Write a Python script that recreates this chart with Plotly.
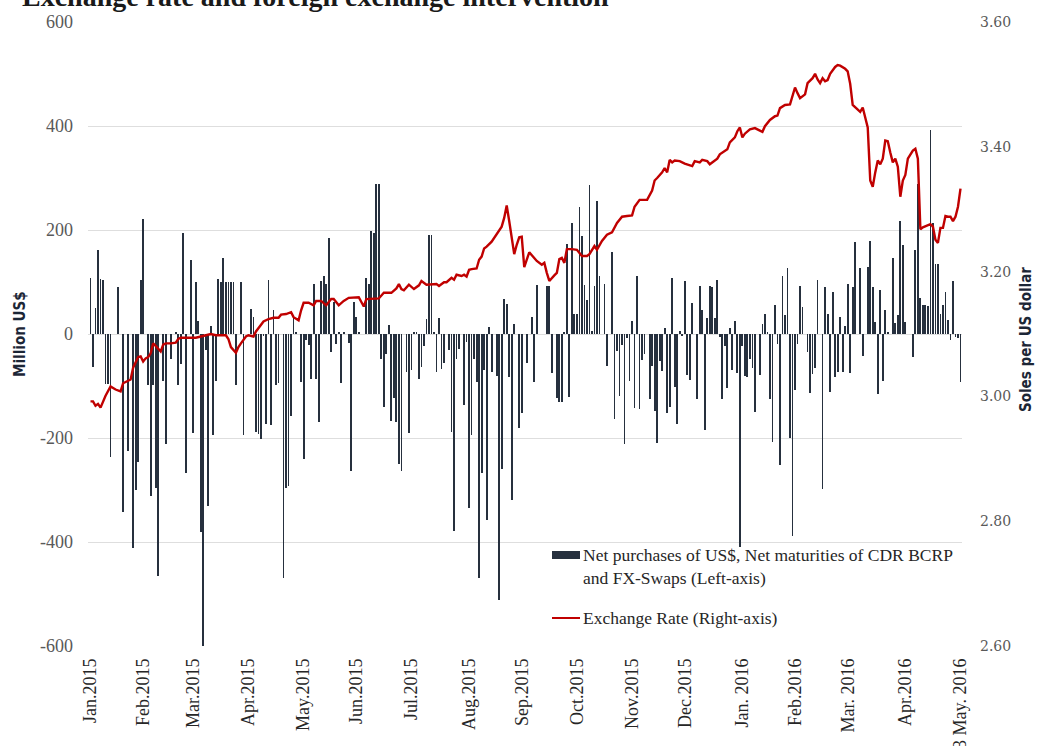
import pandas as pd
import plotly.graph_objects as go

# ---------------- data ----------------
title_text = "Exchange rate and foreign exchange intervention"
bar_name = "Net purchases of US$, Net maturities of CDR BCRP<br>and FX-Swaps (Left-axis)"
line_name = "Exchange Rate (Right-axis)"
left_title = "Million US$"
right_title = "Soles per US dollar"

month_labels = ["Jan.2015", "Feb.2015", "Mar.2015", "Apr.2015", "May.2015", "Jun.2015",
                "Jul.2015", "Aug.2015", "Sep.2015", "Oct.2015", "Nov.2015", "Dec.2015",
                "Jan. 2016", "Feb.2016", "Mar. 2016", "Apr.2016", "3 May. 2016"]
left_ticks = [-600, -400, -200, 0, 200, 400, 600]
left_tick_text = ["-600", "-400", "-200", "0", "200", "400", "600"]

# daily net intervention (million US$), one value per business day, by month
jan15 = [108, -64, 50, 161, 105, 103, -96, -96, -237, 0, 0, 90, 0, -343, 0, -225, 0, -412, -300, -246, 104]
feb15 = [221, 0, -98, -311, -98, -297, -466, 0, -90, -212, 0, -49, 0, 4, -98, -57, 195, -267, 0, 142]
mar15 = [-191, 100, 25, -380, -640, -30, -331, 16, -195, -90, 105, 100, 146, 100, 100, 100, 100, -98, 0, 100, -195, 0]
apr15 = [0, 49, 32, -188, -192, -202, -3, -174, 103, -175, 47, -98, -94, 0, -470, -296, -293, -157, 32, 3, 0, -92]
may15 = [-241, -11, -21, -86, 96, -86, -169, 101, 112, 96, 185, -34, 62, -19, 2, -94, 2, 0, -17, -263, 62]
jun15 = [33, 3, 0, 0, 107, 97, 198, 194, 289, 289, -48, -140, -39, 17, -167, -124, -169, -250, -263, 0, -73, -191]
jul15 = [-69, 2, 2, -86, -64, -24, 28, 190, 190, 2, -73, 31, -68, -55, 0, -30, -188, -378, -48, -29, 0, -137, -15]
aug15 = [-335, -194, -49, -92, -470, -267, -69, -357, 13, -73, 0, -80, -512, -260, 68, 58, -82, -320, 19, 0, -180]
sep15 = [-152, 0, -56, 0, 32, -93, 95, 0, 0, 0, 93, 93, -75, 0, -123, -130, -130, 4, 174, -121, 213, 38]
oct15 = [39, 245, 188, 95, 65, 286, 5, 93, 256, 111, 0, 97, -61, 0, 157, -164, -32, -120, -21, -212, -8, -90]
nov15 = [25, -142, 112, -144, -50, -38, 0, -125, -61, -148, -210, -52, -71, 12, -152, -140, 107, -102, -173, 6, -3]
dec15 = [101, -79, -88, 60, 0, -125, 93, 46, -184, 30, 93, 90, 30, 103, -5, -125, -24, -103, 12, -69, 25, -75, -410]
jan16 = [-24, -81, -83, -48, -66, -150, 0, -79, 19, 39, 3, -125, -208, 56, -19, -252, 112, 37, 127, -200, -388]
feb16 = [-108, -19, 92, 52, 0, -34, -113, -76, -66, 103, 0, -298, 90, 38, -111, 80, -83, -73, 33, -73, 16]
mar16 = [97, -75, 90, 176, 0, 127, -42, 0, 128, 178, 90, 24, -115, 84, -90, 46, 3, 0, 146, 22, 36, 218, 171]
apr16 = [24, 0, 0, -44, 161, 288, 69, 56, 55, 53, 393, 213, 134, 134, 39, 55, 80, 27, -11, 101, -5]
may16 = [-7, -93]

# exchange rate (soles per US$): business-day number (0 = 2 Jan 2015) and value
rate_day = [0, 1, 2, 3, 4, 5, 6, 8, 10, 12, 13, 15, 16, 17, 19, 20, 21, 22, 23, 24, 25, 26, 28, 29, 30,
            32, 34, 35, 36, 38, 42, 44, 46, 48, 50, 52, 54, 55, 56, 58, 59, 60, 62, 63, 65, 66, 68, 69,
            71, 73, 75, 76, 78, 80, 81, 83, 84, 85, 87, 89, 90, 92, 94, 96, 97, 99, 101, 103, 107, 109,
            110, 113, 115, 117, 120, 122, 123, 124, 125, 127, 129, 131, 132, 134, 136, 138, 139, 141,
            142, 144, 145, 146, 148, 149, 150, 151, 152, 154, 155, 156, 157, 158, 160, 162, 164, 165,
            166, 167, 169, 170, 171, 172, 173, 175, 176, 178, 180, 181, 182, 183, 185, 186, 187, 188,
            189, 190, 192, 194, 196, 198, 199, 201, 202, 204, 206, 208, 210, 212, 214, 216, 217, 219,
            220, 222, 224, 225, 226, 228, 229, 230, 231, 232, 233, 235, 237, 239, 240, 241, 243, 244,
            246, 247, 249, 250, 251, 253, 254, 255, 257, 258, 259, 260, 261, 263, 265, 267, 268, 269,
            271, 273, 274, 275, 277, 279, 280, 281, 282, 283, 285, 286, 288, 289, 290, 291, 292, 293,
            294, 295, 297, 298, 299, 301, 302, 303, 304, 306, 307, 308, 309, 310, 311, 312, 313, 314,
            315, 316, 317, 318, 319, 320, 321, 322, 323, 324, 325, 326, 328, 329, 330, 331, 332, 334,
            335, 336, 337, 338, 339, 340, 341, 342, 343, 344, 345, 346, 347]
rate_val = [2.992, 2.992, 2.985, 2.988, 2.982, 2.992, 3.001, 3.016, 3.011, 3.008, 3.021, 3.025, 3.027,
            3.046, 3.063, 3.064, 3.056, 3.061, 3.063, 3.069, 3.085, 3.081, 3.072, 3.083, 3.085,
            3.085, 3.086, 3.092, 3.094, 3.094, 3.094, 3.096, 3.098, 3.100, 3.098, 3.098, 3.098, 3.092,
            3.079, 3.070, 3.079, 3.085, 3.096, 3.098, 3.096, 3.104, 3.115, 3.120,
            3.124, 3.126, 3.126, 3.131, 3.132, 3.135, 3.127, 3.122, 3.138, 3.150, 3.150, 3.146, 3.153,
            3.153, 3.146, 3.156, 3.156, 3.146, 3.153, 3.158, 3.159, 3.144,
            3.156, 3.156, 3.157, 3.166, 3.166, 3.173, 3.180, 3.172, 3.170, 3.179, 3.172, 3.178, 3.185,
            3.179, 3.180, 3.180, 3.177, 3.183,
            3.183, 3.190, 3.187, 3.195, 3.193, 3.195, 3.192, 3.203, 3.204, 3.205, 3.219, 3.224, 3.237,
            3.240, 3.248, 3.259, 3.272, 3.286,
            3.306, 3.281, 3.228, 3.243, 3.255, 3.256, 3.207, 3.231, 3.226, 3.217, 3.211, 3.214, 3.198,
            3.185, 3.194, 3.198, 3.220, 3.222,
            3.214, 3.236, 3.236, 3.235, 3.225, 3.225, 3.228, 3.241, 3.235, 3.249, 3.259, 3.263, 3.278,
            3.288, 3.289, 3.290, 3.304, 3.315,
            3.315, 3.315, 3.330, 3.346, 3.350, 3.359, 3.366, 3.359, 3.379, 3.375, 3.378, 3.377, 3.373,
            3.370, 3.369, 3.377, 3.375, 3.379,
            3.377, 3.372, 3.379, 3.381, 3.388, 3.394, 3.396, 3.407, 3.415, 3.425, 3.431, 3.415, 3.421,
            3.428, 3.430, 3.426, 3.424, 3.433,
            3.443, 3.449, 3.450, 3.462, 3.467, 3.468, 3.480, 3.495, 3.486, 3.478, 3.484, 3.502, 3.510,
            3.517, 3.508, 3.502, 3.510, 3.505,
            3.507, 3.517, 3.528, 3.531, 3.530, 3.525, 3.521, 3.501, 3.467, 3.460, 3.456, 3.463, 3.449,
            3.431, 3.346, 3.336, 3.359, 3.378,
            3.372, 3.381, 3.410, 3.409, 3.391, 3.375, 3.381, 3.368, 3.320, 3.346, 3.355, 3.381, 3.394,
            3.397, 3.381, 3.268, 3.271, 3.275,
            3.276, 3.272, 3.251, 3.246, 3.270, 3.270, 3.289, 3.288, 3.288, 3.281, 3.288, 3.304, 3.333]

# ---------------- build ----------------
dates = pd.bdate_range("2015-01-02", "2016-05-03")
net = (jan15 + feb15 + mar15 + apr15 + may15 + jun15 + jul15 + aug15 + sep15 + oct15 + nov15 +
       dec15 + jan16 + feb16 + mar16 + apr16 + may16)
day = list(range(len(dates)))

# tick at the first business day of each month, last tick at the final day
periods = dates.to_period("M")
tickvals = [i for i in day if i == 0 or periods[i] != periods[i - 1]]
tickvals[-1] = day[-1]

BAR = "#26303e"
RED = "#c00000"
GRID = "#dedede"

fig = go.Figure()
fig.add_trace(go.Bar(x=day, y=net, marker=dict(color=BAR, line=dict(width=0)),
                     width=0.32, name="bars", showlegend=False))
fig.add_trace(go.Scatter(x=rate_day, y=rate_val, mode="lines", yaxis="y2",
                         line=dict(color=RED, width=2.4), showlegend=False))

L, R, T, B = 88, 76, 22, 100
W, H = 1038, 746
pw, ph = W - L - R, H - T - B

def px_x(x):
    return (x - L) / pw

def px_y(y):
    return (H - B - y) / ph

fig.update_layout(
    width=W, height=H,
    margin=dict(l=L, r=R, t=T, b=B, pad=0, autoexpand=False),
    paper_bgcolor="white", plot_bgcolor="white",
    showlegend=False, bargap=0,
    xaxis=dict(range=[-1, len(dates) - 0.4], tickmode="array", tickvals=tickvals,
               ticktext=month_labels, tickangle=-90, showgrid=False, zeroline=False,
               showline=False, ticks="", ticklabelstandoff=8, automargin=False,
               tickfont=dict(family="Liberation Serif", size=18, color="#262626")),
    yaxis=dict(range=[-600, 600], tickmode="array", tickvals=left_ticks, ticktext=left_tick_text,
               showgrid=True, gridcolor=GRID,
               gridwidth=1, zeroline=True, zerolinecolor=GRID, zerolinewidth=1,
               showline=False, ticks="", ticklabelstandoff=14, automargin=False,
               tickfont=dict(family="Liberation Serif", size=18, color="#595959")),
    yaxis2=dict(range=[2.6, 3.6], dtick=0.2, tick0=2.6, tickformat=".2f", overlaying="y",
                side="right", showgrid=False, zeroline=False, showline=False, ticks="",
                ticklabelstandoff=17, automargin=False,
                tickfont=dict(family="DejaVu Serif", size=14, color="#595959")),
)

ann = []
ann.append(dict(text="<b>" + title_text + "</b>", xref="paper", yref="paper", x=px_x(20), y=px_y(-3),
                xanchor="left", yanchor="middle", showarrow=False,
                font=dict(family="Liberation Serif", size=28, color="#1a1a1a")))
axis_title_font = dict(family="Liberation Sans Narrow, DejaVu Sans Condensed, Roboto Condensed, sans-serif",
                       size=15, color="#1c2636")
ann.append(dict(text="<b>" + left_title + "</b>", xref="paper", yref="paper", x=px_x(20), y=px_y(334),
                textangle=-90, showarrow=False, xanchor="center", yanchor="middle",
                font=axis_title_font))
ann.append(dict(text="<b>" + right_title + "</b>", xref="paper", yref="paper", x=px_x(1026), y=px_y(340),
                textangle=-90, showarrow=False, xanchor="center", yanchor="middle",
                font=axis_title_font))

legend_font = dict(family="Liberation Serif", size=17.5, color="#262626")
ann.append(dict(text=bar_name, xref="paper", yref="paper", x=px_x(581), y=px_y(543),
                xanchor="left", yanchor="top", align="left", showarrow=False, font=legend_font))
ann.append(dict(text=line_name, xref="paper", yref="paper", x=px_x(581), y=px_y(618),
                xanchor="left", yanchor="middle", align="left", showarrow=False, font=legend_font))
fig.update_layout(annotations=ann)

fig.add_shape(type="rect", xref="paper", yref="paper", x0=px_x(552), x1=px_x(580),
              y0=px_y(559), y1=px_y(551), fillcolor=BAR, line=dict(width=0))
fig.add_shape(type="line", xref="paper", yref="paper", x0=px_x(552), x1=px_x(580),
              y0=px_y(618), y1=px_y(618), line=dict(color=RED, width=2))

fig.write_html("out.html", config={"displayModeBar": False},
               post_script="document.body.style.margin='0';document.body.style.overflow='hidden';")
